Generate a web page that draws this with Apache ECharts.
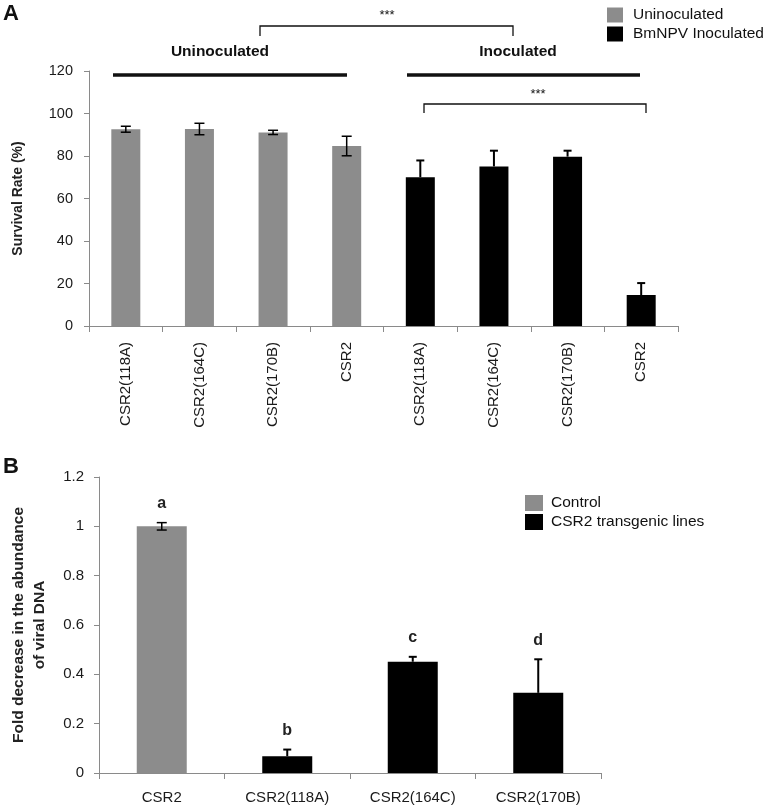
<!DOCTYPE html>
<html lang="en">
<head>
<meta charset="UTF-8">
<title>Survival rate and viral DNA</title>
<style>
  html, body { margin: 0; padding: 0; background: #fff; }
  #chart { width: 768px; height: 809px; }
</style>
</head>
<body>
<div id="chart"></div>
<script src="https://cdn.jsdelivr.net/npm/echarts@6/dist/echarts.min.js"></script>
<script>
// panel A: survival rate
const catsA = ['CSR2(118A)', 'CSR2(164C)', 'CSR2(170B)', 'CSR2', 'CSR2(118A)', 'CSR2(164C)', 'CSR2(170B)', 'CSR2'];
const uninocVals = [92.6, 92.7, 91.1, 84.7];
const uninocErr = [1.4, 2.7, 1.0, 4.6];
const inocVals = [70.0, 75.1, 79.7, 14.6];
const inocErr = [7.9, 7.4, 2.8, 5.6];
const ticksA = { min: 0, max: 120, interval: 20 };

// panel B: viral DNA
const catsB = ['CSR2', 'CSR2(118A)', 'CSR2(164C)', 'CSR2(170B)'];
const controlVals = [1.0];
const controlErr = [0.015];
const transVals = [0.068, 0.451, 0.325];
const transErr = [0.027, 0.02, 0.136];
const lettersB = ['a', 'b', 'c', 'd'];
const ticksB = { min: 0, max: 1.2, interval: 0.2 };

const GRAY = '#8c8c8c';
const AXIS = '#8a8a8a';
const FONT = 'Liberation Sans';

const pad = (arr, before, total) => {
  const out = [];
  for (let i = 0; i < total; i++) {
    const j = i - before;
    out.push(j >= 0 && j < arr.length ? arr[j] : '-');
  }
  return out;
};

// error bars as [index, low, high]
const errData = (vals, errs, offset, both) =>
  vals.map((v, i) => [i + offset, both ? v - errs[i] : v, v + errs[i]]);

function errRender(capW, lw, both, letters) {
  return function (params, api) {
    const i = api.value(0);
    const lo = api.coord([i, api.value(1)]);
    const hi = api.coord([i, api.value(2)]);
    const st = { stroke: '#000', lineWidth: lw };
    const kids = [
      { type: 'line', shape: { x1: hi[0], y1: hi[1], x2: lo[0], y2: lo[1] }, style: st },
      { type: 'line', shape: { x1: hi[0] - capW / 2, y1: hi[1], x2: hi[0] + capW / 2, y2: hi[1] }, style: st }
    ];
    if (both) {
      kids.push({ type: 'line', shape: { x1: lo[0] - capW / 2, y1: lo[1], x2: lo[0] + capW / 2, y2: lo[1] }, style: st });
    }
    if (letters) {
      kids.push({
        type: 'text', x: hi[0], y: hi[1] - 19,
        style: { text: letters[params.dataIndex], fill: '#222', font: 'bold 16px ' + FONT, align: 'center', verticalAlign: 'middle' }
      });
    }
    return { type: 'group', children: kids };
  };
}

const valueAxis = (gi, t, name, gap, size, labelMargin, labelSize) => ({
  type: 'value', gridIndex: gi, min: t.min, max: t.max, interval: t.interval,
  name: name, nameLocation: 'middle', nameGap: gap,
  nameTextStyle: { fontSize: size, fontWeight: 'bold', color: '#222', fontFamily: FONT, lineHeight: 21 },
  axisLine: { show: true, lineStyle: { color: AXIS, width: 1 } },
  axisTick: { show: true, length: 5, lineStyle: { color: AXIS } },
  axisLabel: { margin: labelMargin, fontSize: labelSize, color: '#1a1a1a', fontFamily: FONT },
  splitLine: { show: false }
});

const catAxis = (gi, cats, rotate, margin) => ({
  type: 'category', gridIndex: gi, data: cats,
  axisLine: { lineStyle: { color: AXIS, width: 1 } },
  axisTick: { show: true, length: 6, lineStyle: { color: AXIS } },
  axisLabel: { interval: 0, rotate: rotate, margin: margin, fontSize: 15, color: '#1a1a1a', fontFamily: FONT }
});

const txt = (x, y, s, font, align) => ({
  type: 'text', x: x, y: y,
  style: { text: s, font: font, fill: '#111', align: align || 'center', verticalAlign: 'middle' }
});
const poly = (pts, w) => ({
  type: 'polyline', shape: { points: pts }, style: { stroke: '#111', lineWidth: w, fill: null }
});

const chart = echarts.init(document.getElementById('chart'));

chart.setOption({
  animation: false,
  textStyle: { fontFamily: FONT },
  grid: [
    { left: 83, top: 71, width: 595, height: 255 },
    { left: 88, top: 477, width: 513, height: 296 }
  ],
  legend: [
    {
      data: ['Uninoculated', 'BmNPV Inoculated'], orient: 'vertical', left: 602, top: 2,
      icon: 'rect', itemWidth: 16, itemHeight: 15, itemGap: 3,
      textStyle: { fontSize: 15.5, color: '#111', padding: [0, 0, 0, 5] }
    },
    {
      data: ['Control', 'CSR2 transgenic lines'], orient: 'vertical', left: 520, top: 490,
      icon: 'rect', itemWidth: 18, itemHeight: 16, itemGap: 3,
      textStyle: { fontSize: 15.5, color: '#111', padding: [0, 0, 0, 3] }
    }
  ],
  xAxis: [catAxis(0, catsA, 90, 16), catAxis(1, catsB, 0, 17)],
  yAxis: [
    valueAxis(0, ticksA, 'Survival Rate (%)', 60, 14, 16, 14.5),
    valueAxis(1, ticksB, 'Fold decrease in the abundance\nof viral DNA', 49, 15.5, 15, 15)
  ],
  series: [
    {
      name: 'Uninoculated', type: 'bar', xAxisIndex: 0, yAxisIndex: 0, barWidth: 29, barGap: '-100%',
      itemStyle: { color: GRAY }, data: pad(uninocVals, 0, 8)
    },
    {
      name: 'BmNPV Inoculated', type: 'bar', xAxisIndex: 0, yAxisIndex: 0, barWidth: 29, barGap: '-100%',
      itemStyle: { color: '#000' }, data: pad(inocVals, 4, 8)
    },
    {
      type: 'custom', xAxisIndex: 0, yAxisIndex: 0, z: 5, encode: { x: 0, y: [1, 2] },
      renderItem: errRender(10, 1.5, true), data: errData(uninocVals, uninocErr, 0, true)
    },
    {
      type: 'custom', xAxisIndex: 0, yAxisIndex: 0, z: 5, encode: { x: 0, y: [1, 2] },
      renderItem: errRender(8, 2, false), data: errData(inocVals, inocErr, 4, false)
    },
    {
      name: 'Control', type: 'bar', xAxisIndex: 1, yAxisIndex: 1, barWidth: 50, barGap: '-100%',
      itemStyle: { color: GRAY }, data: pad(controlVals, 0, 4)
    },
    {
      name: 'CSR2 transgenic lines', type: 'bar', xAxisIndex: 1, yAxisIndex: 1, barWidth: 50, barGap: '-100%',
      itemStyle: { color: '#000' }, data: pad(transVals, 1, 4)
    },
    {
      type: 'custom', xAxisIndex: 1, yAxisIndex: 1, z: 5, encode: { x: 0, y: [1, 2] },
      renderItem: errRender(10, 1.5, true, lettersB.slice(0, 1)), data: errData(controlVals, controlErr, 0, true)
    },
    {
      type: 'custom', xAxisIndex: 1, yAxisIndex: 1, z: 5, encode: { x: 0, y: [1, 2] },
      renderItem: errRender(8, 2, false, lettersB.slice(1)), data: errData(transVals, transErr, 1, false)
    }
  ],
  graphic: [
    txt(11, 14, 'A', 'bold 22px ' + FONT),
    txt(220, 52, 'Uninoculated', 'bold 15.5px ' + FONT),
    txt(518, 52, 'Inoculated', 'bold 15.5px ' + FONT),
    poly([[113, 75], [347, 75]], 3.5),
    poly([[407, 75], [640, 75]], 3.5),
    poly([[260, 36], [260, 26], [513, 26], [513, 36]], 1.3),
    txt(387, 15, '***', '13px ' + FONT),
    poly([[424, 113], [424, 104], [646, 104], [646, 113]], 1.3),
    txt(538, 94, '***', '13px ' + FONT),
    txt(11, 467, 'B', 'bold 22px ' + FONT)
  ]
});
</script>
</body>
</html>
